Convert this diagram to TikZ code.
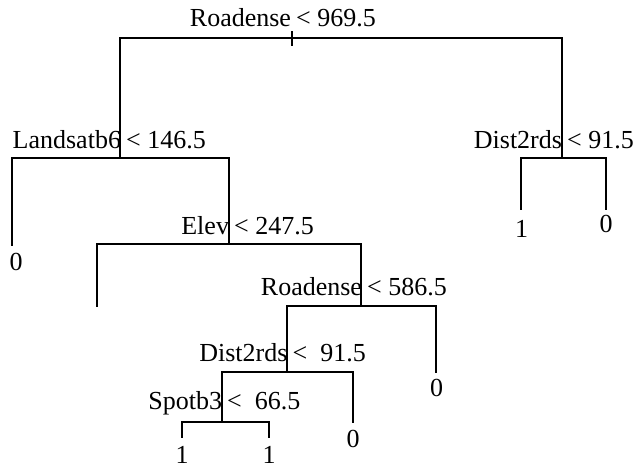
\documentclass[tikz,border=0pt]{standalone}
\usepackage{fontspec}
\setmainfont{Liberation Serif}
\begin{document}
\begin{tikzpicture}[x=1pt,y=-1pt,line width=1.8pt,line cap=rect,
  lbl/.style={font=\fontsize{26}{30}\selectfont,inner sep=0pt,outer sep=0pt},
  varname/.style={lbl,anchor=base east},
  cond/.style={lbl,anchor=base west},
  leaflbl/.style={lbl,anchor=base}]
\useasboundingbox (0,0) rectangle (634,469);
% split points (bar level) and leaf ends
\coordinate (n1) at (292,38);
\coordinate (t1) at (292,32);
\coordinate (t2) at (292,45);
\coordinate (n2) at (120,158);
\coordinate (n3) at (562,158);
\coordinate (n3a) at (521,209);
\coordinate (n3b) at (606,209);
\coordinate (n4) at (12,245);
\coordinate (n5) at (229,244);
\coordinate (n6) at (97,306);
\coordinate (n7) at (361,306);
\coordinate (n8) at (287,372);
\coordinate (n9) at (436,372);
\coordinate (n10) at (222,422);
\coordinate (n11) at (353,422);
\coordinate (n12) at (182,437);
\coordinate (n13) at (269,437);
% connectors
\draw (n2) |- (n1) -| (n3);
\draw (t1) -- (t2);
\draw (n4) |- (n2) -| (n5);
\draw (n3a) |- (n3) -| (n3b);
\draw (n6) |- (n5) -| (n7);
\draw (n8) |- (n7) -| (n9);
\draw (n10) |- (n8) -| (n11);
\draw (n12) |- (n10) -| (n13);
% split labels
\node[varname] (l1a) at (291,26) {Roadense};
\node[cond] (l1b) at (291,26) {\hspace{0.2em}< 969.5};
\node[varname] (l2a) at (121,148) {Landsatb6};
\node[cond] (l2b) at (121,148) {\hspace{0.2em}< 146.5};
\node[varname] (l3a) at (562,148) {Dist2rds};
\node[cond] (l3b) at (562,148) {\hspace{0.2em}< 91.5};
\node[varname] (l5a) at (229,234) {Elev};
\node[cond] (l5b) at (229,234) {\hspace{0.2em}< 247.5};
\node[varname] (l7a) at (362,295) {Roadense};
\node[cond] (l7b) at (362,295) {\hspace{0.2em}< 586.5};
\node[varname] (l8a) at (287.5,361) {Dist2rds};
\node[cond] (l8b) at (287.5,361) {\hspace{0.2em}< \ 91.5};
\node[varname] (l10a) at (222,409) {Spotb3};
\node[cond] (l10b) at (222,409) {\hspace{0.2em}< \ 66.5};
% leaf labels
\node[leaflbl] (f4) at (16,270) {0};
\node[leaflbl] (f3a) at (521.5,237) {1};
\node[leaflbl] (f3b) at (606,232) {0};
\node[leaflbl] (f9) at (436.5,396) {0};
\node[leaflbl] (f11) at (353,447) {0};
\node[leaflbl] (f12) at (182,463) {1};
\node[leaflbl] (f13) at (269,463) {1};
\end{tikzpicture}
\end{document}
